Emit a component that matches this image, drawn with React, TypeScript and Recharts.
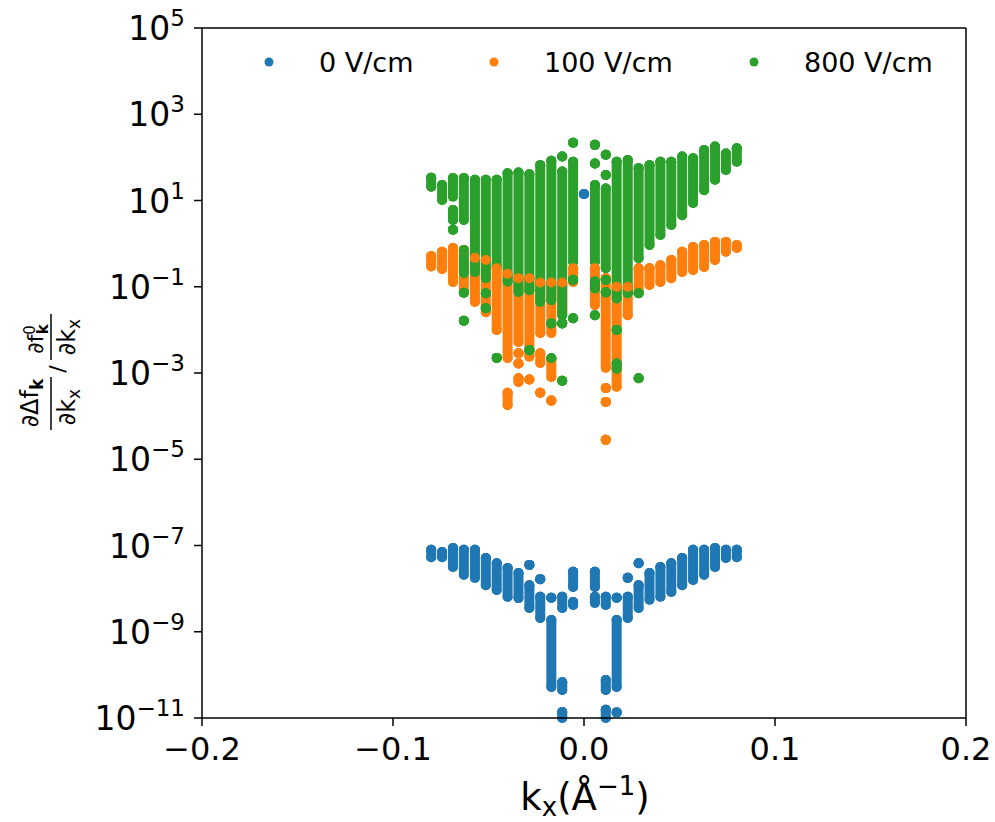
import React from 'react'
import { ScatterChart, Scatter, XAxis, YAxis, ErrorBar, ReferenceLine } from 'recharts'

// k_x grid (1/Å)
const kx = [
  -0.08, -0.0743, -0.0686, -0.0629, -0.0571, -0.0514, -0.0457, -0.04, -0.0343, -0.0286,
  -0.0229, -0.0171, -0.0114, -0.0057, 0, 0.0057, 0.0114, 0.0171, 0.0229, 0.0286,
  0.0343, 0.04, 0.0457, 0.0514, 0.0571, 0.0629, 0.0686, 0.0743, 0.08,
]

// each run of dots: [k index, log10 top, log10 bottom]
const field0 = [
  [0, -7.1, -7.27], [1, -7.15, -7.27], [2, -7.06, -7.5], [3, -7.1, -7.68], [4, -7.1, -7.75],
  [5, -7.29, -7.92], [6, -7.41, -8.03], [7, -7.52, -8.19], [8, -7.64, -8.22],
  [9, -7.45, -7.45], [9, -7.92, -8.45], [10, -7.78, -7.78], [10, -8.19, -8.68],
  [11, -8.21, -8.21], [11, -8.73, -10.28],
  [12, -8.19, -8.45], [12, -10.17, -10.35], [12, -10.86, -11.0],
  [13, -7.61, -7.96], [13, -8.31, -8.38], [14, 1.15, 1.15],
  [15, -7.61, -7.96], [15, -8.19, -8.33],
  [16, -8.19, -8.38], [16, -10.12, -10.35], [16, -10.81, -11.0],
  [17, -8.21, -8.21], [17, -8.73, -10.28], [17, -10.87, -10.87],
  [18, -7.75, -7.75], [18, -8.19, -8.68], [19, -7.41, -7.41], [19, -7.92, -8.45],
  [20, -7.64, -8.26], [21, -7.5, -8.19], [22, -7.41, -8.08], [23, -7.29, -7.92],
  [24, -7.1, -7.8], [25, -7.1, -7.68], [26, -7.06, -7.5], [27, -7.1, -7.29], [28, -7.1, -7.27],
]

const field100 = [
  [0, -0.29, -0.53], [1, -0.19, -0.59], [2, -0.1, -0.89], [3, -0.15, -1.12], [4, -0.33, -1.35],
  [5, -0.38, -1.59], [6, -0.57, -2.0], [7, -0.7, -2.65], [7, -3.46, -3.74],
  [8, -0.8, -2.28], [8, -2.54, -2.54], [8, -2.78, -2.78], [8, -3.12, -3.21],
  [9, -0.8, -2.62], [9, -3.15, -3.15],
  [10, -0.9, -2.07], [10, -2.54, -2.77], [10, -3.46, -3.46],
  [11, -0.9, -2.07], [11, -2.7, -3.09], [11, -3.64, -3.64],
  [12, -0.9, -1.58], [13, -0.57, -0.89], [15, -0.57, -1.42],
  [16, -0.8, -2.88], [16, -3.35, -3.35], [16, -3.67, -3.67], [16, -4.55, -4.55],
  [17, -1.0, -3.32], [18, -1.0, -1.66], [19, -0.57, -1.12], [20, -0.57, -0.96],
  [21, -0.5, -0.89], [22, -0.38, -0.8], [23, -0.19, -0.66], [24, -0.08, -0.61],
  [25, -0.03, -0.54], [26, 0.04, -0.38], [27, 0.04, -0.19], [28, -0.03, -0.1],
]

const field800 = [
  [0, 1.53, 1.32], [1, 1.36, 1.01],
  [2, 1.52, 1.09], [2, 0.78, 0.55], [2, 0.32, 0.32],
  [3, 1.52, 0.55], [3, -0.15, -0.68], [3, -1.14, -1.14], [3, -1.79, -1.79],
  [4, 1.48, -0.66],
  [5, 1.48, -0.8], [5, -1.15, -1.15], [5, -1.5, -1.5],
  [6, 1.48, -0.53], [6, -2.65, -2.65],
  [7, 1.63, -0.88], [8, 1.65, -1.12],
  [9, 1.61, -1.08], [9, -2.47, -2.47],
  [10, 1.82, -1.35],
  [11, 1.92, -1.31], [11, -1.85, -1.85], [11, -2.66, -2.66],
  [12, 2.02, 2.02], [12, 1.67, -1.66], [12, -1.85, -1.85], [12, -3.18, -3.18],
  [13, 2.34, 2.34], [13, 1.9, -0.42], [13, -0.84, -0.84], [13, -1.73, -1.73],
  [15, 2.29, 2.29], [15, 1.86, 1.86], [15, 1.36, -0.42], [15, -0.88, -1.04], [15, -1.66, -1.66],
  [16, 2.06, 2.06], [16, 1.59, 1.59], [16, 1.28, -0.57], [16, -0.84, -0.84], [16, -1.13, -1.13],
  [17, 1.9, -1.27], [17, -2.0, -2.0], [17, -2.78, -2.9],
  [18, 1.94, -1.15],
  [19, 1.75, -0.34], [19, -1.15, -1.15], [19, -3.12, -3.12],
  [20, 1.82, -0.03], [21, 1.9, 0.2], [22, 1.9, 0.43], [23, 2.02, 0.66], [24, 1.98, 0.94],
  [25, 2.17, 1.24], [26, 2.25, 1.48], [27, 2.09, 1.71], [28, 2.21, 1.9],
]

const xTicks = [-0.2, -0.1, 0, 0.1, 0.2]
const yTicks = [1e-11, 1e-9, 1e-7, 1e-5, 1e-3, 1e-1, 1e1, 1e3, 1e5]
const names = ['0 V/cm', '100 V/cm', '800 V/cm']
const colors = ['#1f77b4', '#ff7f0e', '#2ca02c']

const font = '"DejaVu Sans", sans-serif'

const toRows = (segs: number[][]) =>
  segs.map(([k, hi, lo]) => {
    const top = Math.pow(10, hi)
    return { x: kx[k], y: top, err: [top - Math.pow(10, lo), 0] }
  })

const series = [toRows(field0), toRows(field100), toRows(field800)]

const fmtX = (v: number) => (v === 0 ? '0.0' : (v < 0 ? '\u2212' : '') + Math.abs(v).toFixed(1))

const XTick = ({ x, y, payload }: any) => (
  <text x={x} y={y + 30} textAnchor="middle" fontFamily={font} fontSize={32} fill="#000">
    {fmtX(payload.value)}
  </text>
)

const YTick = ({ x, y, payload }: any) => {
  const e = Math.round(Math.log10(payload.value))
  return (
    <text x={x} y={y + 12} textAnchor="end" fontFamily={font} fontSize={33} fill="#000">
      10
      <tspan fontSize={23} dy={-14}>{e < 0 ? '\u2212' + -e : String(e)}</tspan>
    </text>
  )
}

const dot = (color: string) => (p: any) => <circle cx={p.cx} cy={p.cy} r={5} fill={color} />

function Overlay() {
  return (
    <svg width={995} height={822} style={{ position: 'absolute', left: 0, top: 0, pointerEvents: 'none' }}>
      {/* legend */}
      {names.map((n, i) => {
        const mx = [269, 494, 754][i]
        return (
          <g key={n}>
            <circle cx={mx} cy={62} r={4.5} fill={colors[i]} />
            <text x={mx + 50} y={72} fontFamily={font} fontSize={27} fill="#000">{n}</text>
          </g>
        )
      })}
      {/* x label */}
      <text x={585} y={810} textAnchor="middle" fontFamily={font} fontSize={37} fill="#000">
        k<tspan fontSize={26} dy={6}>x</tspan>
        <tspan dy={-6}>(Å</tspan>
        <tspan fontSize={26} dy={-15}>{'\u22121'}</tspan>
        <tspan dy={15}>)</tspan>
      </text>
      {/* y label */}
      <g transform="translate(51,370) rotate(-90)" fontFamily={font} fill="#000">
        <text x={-33} y={-13} textAnchor="middle" fontSize={24}>
          ∂Δf<tspan fontSize={17} fontWeight="bold" dy={5}>k</tspan>
        </text>
        <line x1={-60} x2={-7} y1={0} y2={0} stroke="#000" strokeWidth={1.5} />
        <text x={-37} y={24} textAnchor="middle" fontSize={24}>
          ∂k<tspan fontSize={17} dy={5}>x</tspan>
        </text>
        <text x={1} y={14} textAnchor="middle" fontSize={22}>/</text>
        <text x={31} y={-8} textAnchor="middle" fontSize={22}>
          ∂f<tspan fontSize={15} dy={-8}>0</tspan>
          <tspan fontSize={15} fontWeight="bold" dx={-9} dy={13}>k</tspan>
        </text>
        <line x1={10} x2={56} y1={0} y2={0} stroke="#000" strokeWidth={1.5} />
        <text x={33} y={24} textAnchor="middle" fontSize={24}>
          ∂k<tspan fontSize={17} dy={5}>x</tspan>
        </text>
      </g>
    </svg>
  )
}

export default function App() {
  return (
    <div style={{ position: 'relative', width: 995, height: 822, background: '#fff' }}>
      <style>{'body{margin:0}'}</style>
      <ScatterChart width={995} height={822} margin={{ top: 28, right: 29, left: 122, bottom: 44 }}>
        <XAxis
          dataKey="x"
          type="number"
          domain={[-0.2, 0.2]}
          ticks={xTicks}
          tick={<XTick />}
          tickSize={8}
          tickMargin={4}
          height={60}
          axisLine={{ stroke: '#000', strokeWidth: 1.5 }}
          tickLine={{ stroke: '#000', strokeWidth: 1.5 }}
          allowDataOverflow
        />
        <YAxis
          dataKey="y"
          type="number"
          scale="log"
          domain={[1e-11, 1e5]}
          ticks={yTicks}
          tick={<YTick />}
          tickSize={8}
          tickMargin={9}
          width={80}
          axisLine={{ stroke: '#000', strokeWidth: 1.5 }}
          tickLine={{ stroke: '#000', strokeWidth: 1.5 }}
          allowDataOverflow
        />
        {/* top and right spines */}
        <ReferenceLine y={1e5} stroke="#000" strokeWidth={1.5} />
        <ReferenceLine x={0.2} stroke="#000" strokeWidth={1.5} />
        {series.map((rows, i) => (
          <Scatter
            key={names[i]}
            name={names[i]}
            data={rows}
            fill={colors[i]}
            shape={dot(colors[i])}
            isAnimationActive={false}
          >
            <ErrorBar
              dataKey="err"
              direction="y"
              width={0}
              stroke={colors[i]}
              strokeWidth={10}
              strokeLinecap="round"
              isAnimationActive={false}
            />
          </Scatter>
        ))}
      </ScatterChart>
      <Overlay />
    </div>
  )
}
